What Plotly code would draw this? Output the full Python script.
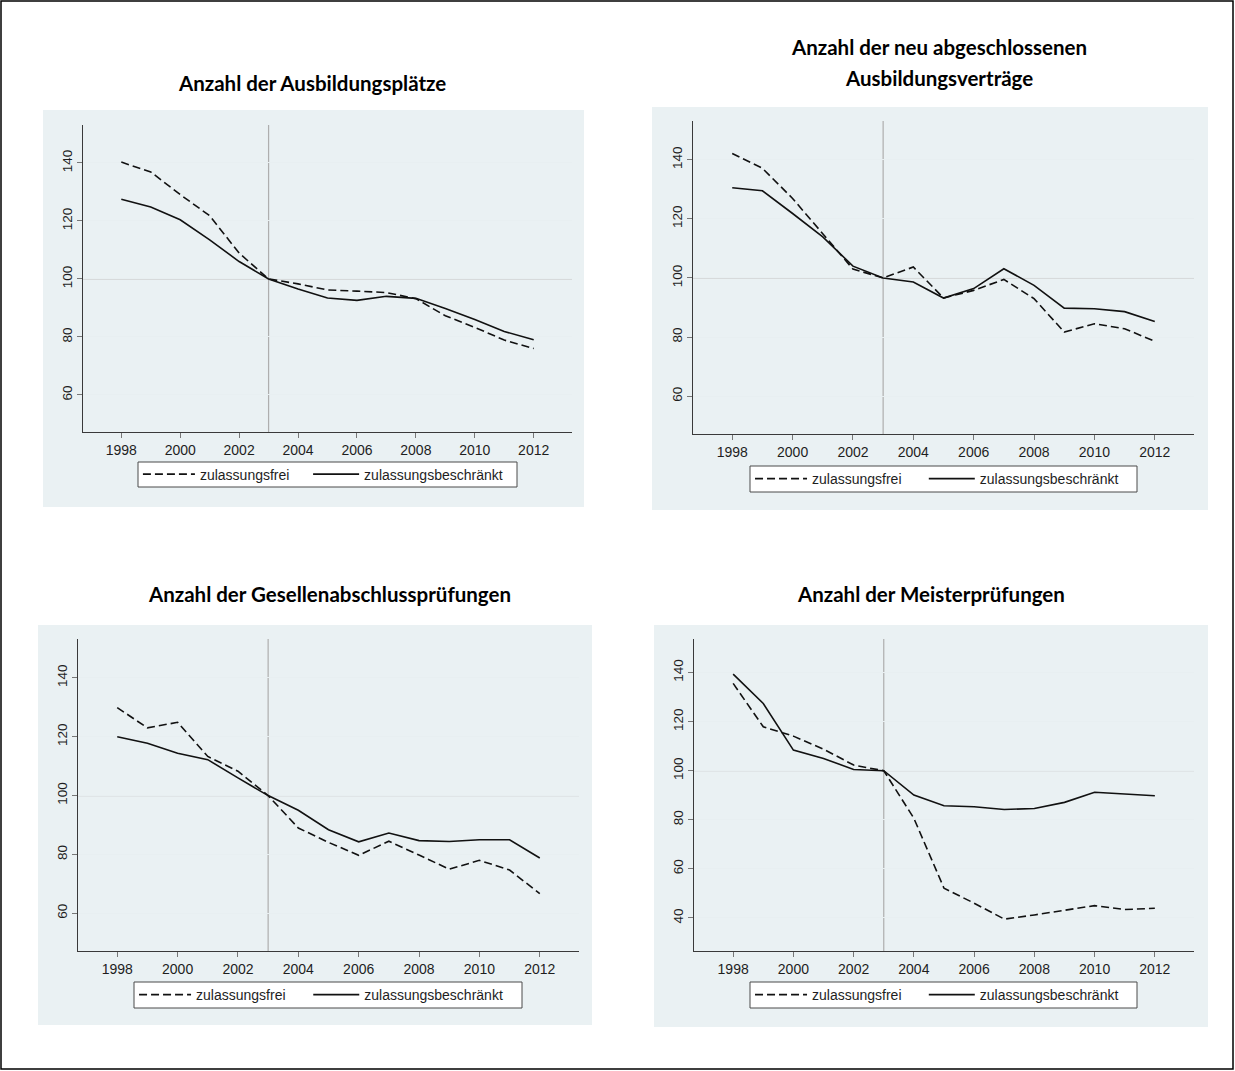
import plotly.graph_objects as go

# ---------------- data ----------------
years = list(range(1998, 2013))
x_tick_values = [1998, 2000, 2002, 2004, 2006, 2008, 2010, 2012]
y_ticks_standard = [60, 80, 100, 120, 140]
y_ticks_meister = [40, 60, 80, 100, 120, 140]
series_names = ["zulassungsfrei", "zulassungsbeschränkt"]
base_year = 2003
base_index = 100

# Anzahl der Ausbildungsplätze
plaetze_frei = [140.3, 136.9, 129.1, 121.8, 108.9, 100.0, 98.3, 96.2, 95.8, 95.3, 93.2, 87.3, 83.3, 78.9, 76.0]
plaetze_beschr = [127.5, 124.8, 120.4, 113.5, 106.0, 100.0, 96.5, 93.4, 92.6, 94.0, 93.3, 89.8, 86.0, 81.9, 79.0]

# Anzahl der neu abgeschlossenen Ausbildungsverträge
vertraege_frei = [142.1, 137.1, 126.9, 115.0, 103.0, 100.0, 103.7, 93.2, 95.8, 99.5, 93.0, 81.7, 84.5, 82.8, 78.6]
vertraege_beschr = [130.5, 129.5, 121.8, 113.9, 104.0, 100.0, 98.6, 93.2, 96.4, 103.1, 97.5, 89.8, 89.6, 88.6, 85.3]

# Anzahl der Gesellenabschlussprüfungen
gesellen_frei = [129.9, 123.0, 124.9, 113.3, 108.3, 100.0, 89.0, 84.1, 79.7, 84.5, 79.8, 75.0, 78.0, 74.7, 66.7]
gesellen_beschr = [120.0, 117.8, 114.4, 112.2, 106.0, 100.0, 95.0, 88.4, 84.3, 87.3, 84.7, 84.4, 85.0, 85.0, 78.8]

# Anzahl der Meisterprüfungen
meister_frei = [135.6, 117.9, 114.1, 108.8, 102.3, 100.0, 80.6, 52.1, 46.0, 39.5, 41.2, 43.2, 45.0, 43.4, 43.9]
meister_beschr = [139.4, 127.4, 108.4, 105.0, 100.5, 100.0, 90.1, 85.7, 85.3, 84.2, 84.6, 87.1, 91.2, 90.4, 89.8]

title_lines = [
    ["Anzahl der Ausbildungsplätze"],
    ["Anzahl der neu abgeschlossenen", "Ausbildungsverträge"],
    ["Anzahl der Gesellenabschlussprüfungen"],
    ["Anzahl der Meisterprüfungen"],
]
panel_data = [
    (plaetze_frei, plaetze_beschr, y_ticks_standard),
    (vertraege_frei, vertraege_beschr, y_ticks_standard),
    (gesellen_frei, gesellen_beschr, y_ticks_standard),
    (meister_frei, meister_beschr, y_ticks_meister),
]

# ---------------- layout geometry (pixels) ----------------
W, H = 1235, 1071
# plot area: left, right, top, bottom
plot_boxes = [(83, 572, 125, 432), (693, 1194, 121, 434), (78, 579, 639, 951), (694, 1194, 639, 951)]
# grey graph region: left, right, top, bottom
bg_boxes = [(43, 584, 110, 507), (652, 1208, 107, 510), (38, 592, 625, 1025), (654, 1208, 625, 1027)]
# legend frame: left, right, top, bottom
legend_boxes = [(138, 517, 462, 487), (750, 1137, 466, 492), (134, 522, 982, 1008), (750, 1137, 982, 1008)]
legend_sample_len = [52, 46]
legend_item_offset = [0.013, 0.462]   # fraction of legend frame width where each sample line starts
title_pos = [(312, [83]), (939, [47, 78]), (329, [594]), (931, [594])]
y_ranges = [[47.2, 153.1], [47.2, 153.1], [47.2, 153.2], [26.5, 153.7]]
x_range = [1996.7, 2013.3]


def px(xp):
    return xp / W


def py(yp):
    return 1 - yp / H


GRAPH_BG = "#EAF1F3"
AXIS_COLOR = "#3a3a3a"
TEXT_COLOR = "#1e1e1e"
TICK_FONT = "Liberation Sans, Arial, sans-serif"

fig = go.Figure()
shapes = []
annotations = []
layout_extra = {}
legend_counter = 0

for i, (frei, beschr, yticks) in enumerate(panel_data):
    sfx = "" if i == 0 else str(i + 1)
    xa, ya = "x" + sfx, "y" + sfx
    l, r, t, b = plot_boxes[i]
    ll, lr, lt, lb = legend_boxes[i]

    # grey graph region
    bl, br, bt, bb = bg_boxes[i]
    shapes.append(dict(type="rect", xref="paper", yref="paper",
                       x0=px(bl), x1=px(br), y0=py(bb), y1=py(bt),
                       fillcolor=GRAPH_BG, line=dict(width=0), layer="below"))
    # legend frame
    shapes.append(dict(type="rect", xref="paper", yref="paper",
                       x0=px(ll), x1=px(lr), y0=py(lb), y1=py(lt),
                       fillcolor="white", line=dict(color="#4a4a4a", width=1), layer="below"))
    # reference lines at base index / base year
    shapes.append(dict(type="line", xref=xa + " domain", yref=ya,
                       x0=0, x1=1, y0=base_index, y1=base_index,
                       line=dict(color="#C4C4C4", width=1.2), layer="below"))
    shapes.append(dict(type="line", xref=xa, yref=ya + " domain",
                       x0=base_year, x1=base_year, y0=0, y1=1,
                       line=dict(color="#AEAEAE", width=1.2), layer="below"))

    for k, (vals, dash) in enumerate([(frei, "8px,4px"), (beschr, "solid")]):
        legend_counter += 1
        leg = "legend" if legend_counter == 1 else "legend" + str(legend_counter)
        fig.add_trace(go.Scatter(
            x=years, y=vals, mode="lines", name=series_names[k],
            line=dict(color="#111111", width=1.6, dash=dash),
            xaxis=xa, yaxis=ya, legend=leg, hoverinfo="skip"))
        start_x = ll + legend_item_offset[k] * (lr - ll)
        layout_extra[leg] = dict(
            orientation="h", x=px(start_x - 5), y=py((lt + lb) / 2),
            xanchor="left", yanchor="middle",
            bgcolor="rgba(0,0,0,0)", borderwidth=0,
            font=dict(family=TICK_FONT, size=14, color=TEXT_COLOR),
            itemwidth=legend_sample_len[k],
            itemclick=False, itemdoubleclick=False,
        )

    layout_extra["xaxis" + sfx] = dict(
        domain=[px(l), px(r)], anchor=ya, range=x_range,
        tickmode="array", tickvals=x_tick_values,
        ticks="outside", ticklen=5, tickcolor="#777777", tickwidth=1,
        showline=True, linecolor=AXIS_COLOR, linewidth=1, mirror=False,
        showgrid=False, zeroline=False,
        tickfont=dict(family=TICK_FONT, size=14, color=TEXT_COLOR),
    )
    layout_extra["yaxis" + sfx] = dict(
        domain=[py(b), py(t)], anchor=xa, range=y_ranges[i],
        tickmode="array", tickvals=yticks, tickangle=-90,
        ticks="outside", ticklen=5, tickcolor="#777777", tickwidth=1,
        showline=True, linecolor=AXIS_COLOR, linewidth=1, mirror=False,
        showgrid=True, gridcolor="#E8EFF1", gridwidth=1, zeroline=False,
        tickfont=dict(family=TICK_FONT, size=13.5, color=TEXT_COLOR),
    )

    # titles
    cx, ys = title_pos[i]
    for line_text, yy in zip(title_lines[i], ys):
        annotations.append(dict(
            text=line_text, xref="paper", yref="paper",
            x=px(cx), y=py(yy), xanchor="center", yanchor="middle",
            showarrow=False,
            font=dict(family="Lato, Carlito, sans-serif", size=20.5,
                      color="#000000", weight="bold")))

# outer frame
shapes.append(dict(type="rect", xref="paper", yref="paper",
                   x0=px(1), x1=px(1233), y0=py(1069), y1=py(1),
                   line=dict(color="#000000", width=1.5),
                   fillcolor="rgba(0,0,0,0)", layer="above"))

fig.update_layout(
    width=W, height=H, autosize=False,
    margin=dict(l=0, r=0, t=0, b=0),
    paper_bgcolor="white", plot_bgcolor="white",
    shapes=shapes, annotations=annotations,
    showlegend=True,
    **layout_extra,
)

fig.write_html("out.html",
               config={"displayModeBar": False, "staticPlot": False},
               post_script="document.body.style.margin='0px';document.body.style.padding='0px';")
